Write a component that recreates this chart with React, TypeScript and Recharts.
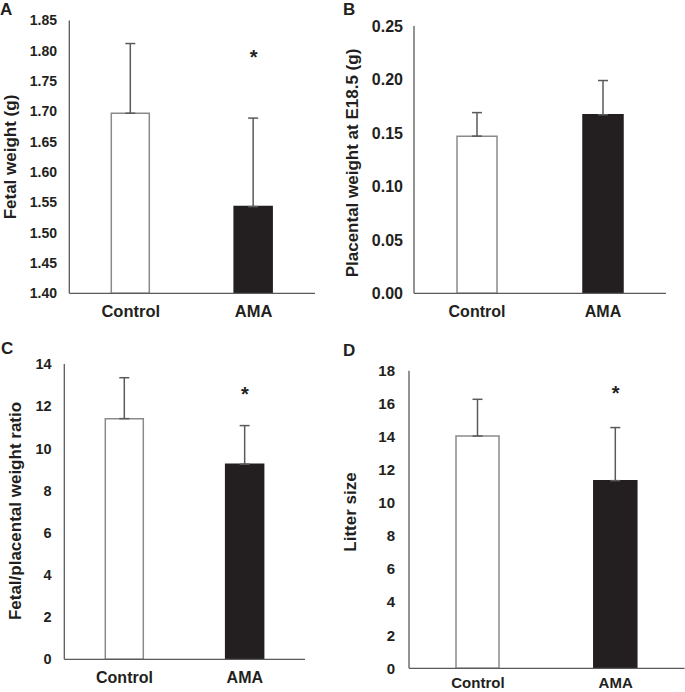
import { BarChart, Bar, XAxis, YAxis, Cell, ErrorBar, ReferenceDot } from 'recharts';

const GROUPS = ['Control', 'AMA'];

const FETAL_MEAN = [1.697, 1.543];
const FETAL_SD = [0.115, 0.146];
const FETAL_TICKS = [1.4, 1.45, 1.5, 1.55, 1.6, 1.65, 1.7, 1.75, 1.8, 1.85];
const FETAL_STAR = 1.794;

const PLACENTAL_MEAN = [0.147, 0.167];
const PLACENTAL_SD = [0.022, 0.032];
const PLACENTAL_TICKS = [0, 0.05, 0.1, 0.15, 0.2, 0.25];

const RATIO_MEAN = [11.41, 9.25];
const RATIO_SD = [1.94, 1.83];
const RATIO_TICKS = [0, 2, 4, 6, 8, 10, 12, 14];
const RATIO_STAR = 12.74;

const LITTER_MEAN = [14.05, 11.35];
const LITTER_SD = [2.22, 3.21];
const LITTER_TICKS = [0, 2, 4, 6, 8, 10, 12, 14, 16, 18];
const LITTER_STAR = 16.84;

const FONT = "Arial, 'Liberation Sans', sans-serif";
const TEXT = '#231f20';
const AXIS = '#5a5a5a';
const BAR_EDGE = '#8a8a8a';
const DARK = '#231f20';

interface PanelProps {
  letter: string;
  ylabel: string;
  means: number[];
  sds: number[];
  ticks: number[];
  decimals: number;
  star: number | null;
  box: { x: number; y: number; w: number; h: number };
  plot: { left: number; top: number; right: number; bottom: number };
  barSize: number;
  tickGap: number;
  tickFont: number;
  catFont: number;
  catGap: number;
  labelX: number;
  labelY: number;
  letterPos: { x: number; y: number };
}

function Panel(p: PanelProps) {
  const data = GROUPS.map((g, i) => ({ group: g, mean: p.means[i], err: [0, p.sds[i]] }));
  const axisWidth = p.plot.left - p.box.x;
  const margin = {
    top: p.plot.top - p.box.y,
    right: p.box.x + p.box.w - p.plot.right,
    left: 0,
    bottom: p.box.y + p.box.h - p.plot.bottom - 30,
  };
  const domain = [p.ticks[0], p.ticks[p.ticks.length - 1]];

  return (
    <>
      <div style={{ position: 'absolute', left: p.box.x, top: p.box.y }}>
        <BarChart width={p.box.w} height={p.box.h} data={data} margin={margin} barCategoryGap={0}>
          <XAxis
            dataKey="group"
            axisLine={{ stroke: AXIS, strokeWidth: 1.3 }}
            tickLine={false}
            tickSize={6}
            tickMargin={p.catGap - 6}
            height={30}
            tick={{ fontSize: p.catFont, fontWeight: 700, fill: TEXT, fontFamily: FONT }}
          />
          <YAxis
            type="number"
            domain={domain}
            ticks={p.ticks}
            interval={0}
            width={axisWidth}
            axisLine={{ stroke: AXIS, strokeWidth: 1.3 }}
            tickLine={false}
            tickSize={6}
            tickMargin={p.tickGap - 6}
            tickFormatter={(v: number) => v.toFixed(p.decimals)}
            tick={{ fontSize: p.tickFont, fontWeight: 700, fill: TEXT, fontFamily: FONT }}
          />
          <Bar dataKey="mean" barSize={p.barSize} isAnimationActive={false}>
            {data.map((d, i) => (
              <Cell
                key={d.group}
                fill={i === 0 ? '#ffffff' : DARK}
                stroke={i === 0 ? BAR_EDGE : DARK}
                strokeWidth={1.5}
              />
            ))}
            <ErrorBar
              dataKey="err"
              direction="y"
              width={5}
              stroke={AXIS}
              strokeWidth={1.5}
              isAnimationActive={false}
            />
          </Bar>
          {p.star !== null && (
            <ReferenceDot
              x="AMA"
              y={p.star}
              r={0}
              ifOverflow="visible"
              shape={(s: any) => (
                <text
                  x={s.cx}
                  y={s.cy + 10}
                  textAnchor="middle"
                  fontSize={20}
                  fontWeight={700}
                  fontFamily={FONT}
                  fill={TEXT}
                >
                  *
                </text>
              )}
            />
          )}
        </BarChart>
      </div>
      <div
        style={{
          position: 'absolute',
          left: p.labelX,
          top: p.labelY,
          transform: 'translate(-50%, -50%) rotate(-90deg)',
          whiteSpace: 'nowrap',
          fontFamily: FONT,
          fontWeight: 700,
          fontSize: 17,
          color: TEXT,
          lineHeight: 1,
        }}
      >
        {p.ylabel}
      </div>
      <div
        style={{
          position: 'absolute',
          left: p.letterPos.x,
          top: p.letterPos.y,
          fontFamily: FONT,
          fontWeight: 700,
          fontSize: 17,
          color: TEXT,
          lineHeight: 1,
        }}
      >
        {p.letter}
      </div>
    </>
  );
}

export default function App() {
  return (
    <div
      style={{
        position: 'absolute',
        left: 0,
        top: 0,
        width: 685,
        height: 692,
        background: '#ffffff',
        overflow: 'hidden',
      }}
    >
      <Panel
        letter="A"
        ylabel="Fetal weight (g)"
        means={FETAL_MEAN}
        sds={FETAL_SD}
        ticks={FETAL_TICKS}
        decimals={2}
        star={FETAL_STAR}
        box={{ x: 0, y: 0, w: 340, h: 340 }}
        plot={{ left: 69.3, top: 20.5, right: 315, bottom: 293.3 }}
        barSize={38}
        tickGap={12.3}
        tickFont={14}
        catFont={16.5}
        catGap={12}
        labelX={10}
        labelY={157}
        letterPos={{ x: 0, y: 1 }}
      />
      <Panel
        letter="B"
        ylabel="Placental weight at E18.5 (g)"
        means={PLACENTAL_MEAN}
        sds={PLACENTAL_SD}
        ticks={PLACENTAL_TICKS}
        decimals={2}
        star={null}
        box={{ x: 340, y: 0, w: 345, h: 340 }}
        plot={{ left: 414, top: 26, right: 666, bottom: 293.3 }}
        barSize={40}
        tickGap={11}
        tickFont={16}
        catFont={16}
        catGap={12}
        labelX={352}
        labelY={163}
        letterPos={{ x: 343, y: 1 }}
      />
      <Panel
        letter="C"
        ylabel="Fetal/placental weight ratio"
        means={RATIO_MEAN}
        sds={RATIO_SD}
        ticks={RATIO_TICKS}
        decimals={0}
        star={RATIO_STAR}
        box={{ x: 0, y: 340, w: 340, h: 352 }}
        plot={{ left: 64.3, top: 364, right: 305, bottom: 659.3 }}
        barSize={38}
        tickGap={12.6}
        tickFont={14.5}
        catFont={16}
        catGap={12}
        labelX={15}
        labelY={511}
        letterPos={{ x: 1, y: 340 }}
      />
      <Panel
        letter="D"
        ylabel="Litter size"
        means={LITTER_MEAN}
        sds={LITTER_SD}
        ticks={LITTER_TICKS}
        decimals={0}
        star={LITTER_STAR}
        box={{ x: 340, y: 340, w: 345, h: 352 }}
        plot={{ left: 409, top: 370.7, right: 684.6, bottom: 668.3 }}
        barSize={43}
        tickGap={14}
        tickFont={15}
        catFont={15}
        catGap={9}
        labelX={350}
        labelY={512}
        letterPos={{ x: 343, y: 342 }}
      />
    </div>
  );
}
